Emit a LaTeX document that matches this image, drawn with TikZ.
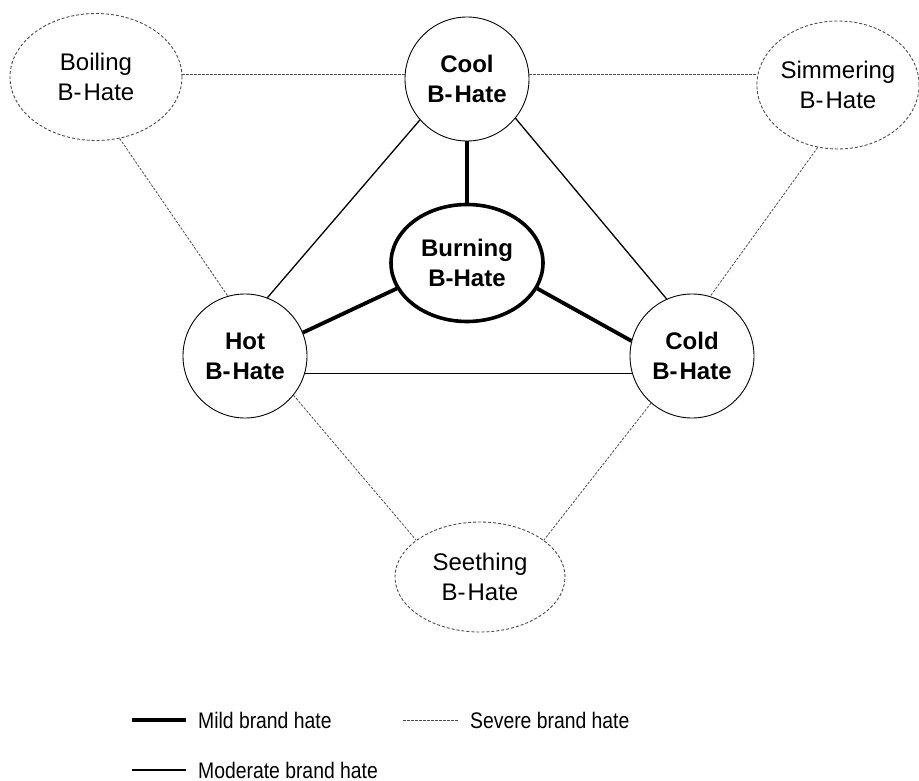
\documentclass[tikz,border=0pt]{standalone}
\usepackage{fontspec}
\setmainfont{Liberation Sans}
\newfontfamily\legendfont[FakeStretch=0.86]{Liberation Sans}
\usetikzlibrary{shapes.geometric}

\tikzset{
  hatecircle/.style={circle, draw=black, line width=0.9pt, fill=white,
    minimum size=124pt, inner sep=0pt, align=center,
    font=\fontsize{24}{30}\selectfont\bfseries},
  hateoval/.style={ellipse, draw=black!70, line width=0.9pt,
    dash pattern=on 3pt off 2pt, fill=white, inner sep=0pt, align=center,
    font=\fontsize{24}{30}\selectfont},
  coreoval/.style={ellipse, draw=black, line width=3.6pt, fill=white,
    minimum width=152pt, minimum height=117pt, inner sep=0pt, align=center,
    font=\fontsize{24}{30}\selectfont\bfseries},
  mildline/.style={line width=3.8pt, black},
  moderateline/.style={line width=1.3pt, black},
  severeline/.style={line width=0.8pt, black!70, dash pattern=on 2.5pt off 1.5pt},
  legendtext/.style={anchor=west, inner sep=0pt, font=\legendfont\fontsize{22.5}{26}\selectfont}
}

\newcommand{\bh}{B-{\kern2pt}Hate}

\begin{document}
\begin{tikzpicture}[x=1pt, y=-1pt]
  \useasboundingbox (0,0) rectangle (919,781);

  % outer ring of severe forms
  \node[hateoval, minimum width=172pt, minimum height=127pt] (boil) at (96,77) {Boiling\\\bh};
  \node[hateoval, minimum width=160pt, minimum height=128pt] (simmer) at (838,85) {Simmering\\\bh};
  \node[hateoval, minimum width=170pt, minimum height=110pt] (seethe) at (480,577) {Seething\\\bh};

  % moderate forms
  \node[hatecircle] (cool) at (467,79) {Cool\\\bh};
  \node[hatecircle] (hot) at (245,356) {Hot\\\bh};
  \node[hatecircle] (cold) at (692,356) {Cold\\\bh};

  % mild core
  \node[coreoval] (burn) at (467,263) {Burning\\B-Hate};

  % severe links
  \draw[severeline] (boil.east |- 0,74) -- (cool.west |- 0,74);
  \draw[severeline] (cool.east |- 0,74) -- (simmer.west |- 0,74);
  \draw[severeline] (boil.291) -- (hot.106);
  \draw[severeline] (simmer.252) -- (cold.73);
  \draw[severeline] (hot.321) -- (seethe.150);
  \draw[severeline] (cold.229) -- (seethe.30);

  % moderate links
  \draw[moderateline] (cool.221) -- (hot.69);
  \draw[moderateline] (cool.321) -- (cold.114);
  \draw[moderateline] (hot.-16) -- (cold.196);

  % mild links
  \draw[mildline] (cool.south) -- (burn.north);
  \draw[mildline] (burn.200) -- (hot.22);
  \draw[mildline] (burn.340) -- (cold.166);

  % legend
  \coordinate (l1a) at (132,720); \coordinate (l1b) at (186,720);
  \coordinate (l2a) at (132,770); \coordinate (l2b) at (186,770);
  \coordinate (l3a) at (403,720); \coordinate (l3b) at (458,720);
  \draw[mildline] (l1a) -- (l1b);
  \draw[moderateline] (l2a) -- (l2b);
  \draw[severeline] (l3a) -- (l3b);
  \node[legendtext] (t1) at (198,720) {Mild brand hate};
  \node[legendtext] (t2) at (198,770) {Moderate brand hate};
  \node[legendtext] (t3) at (470,720) {Severe brand hate};
\end{tikzpicture}
\end{document}
